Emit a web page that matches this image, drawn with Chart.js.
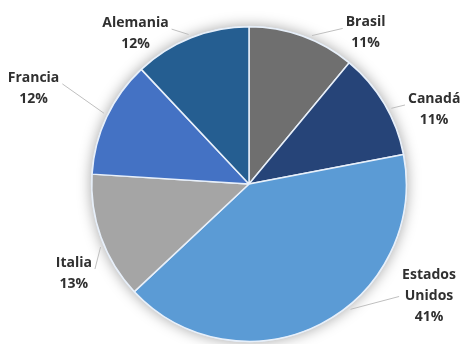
<!DOCTYPE html>
<html>
<head>
<meta charset="utf-8">
<script src="https://cdn.jsdelivr.net/npm/chart.js@4"></script>
<style>
  html, body { margin: 0; padding: 0; background: #fff; }
  #wrap { width: 460px; height: 344px; position: relative; }
</style>
</head>
<body>
<div id="wrap"><canvas id="chart" width="460" height="344"></canvas></div>
<script>
// slices, clockwise from 12 o'clock
const paises = ['Brasil', 'Canadá', 'Estados Unidos', 'Italia', 'Francia', 'Alemania'];
const porcentajes = [11, 11, 41, 13, 12, 12];
const colores = ['#6f6f6f', '#264478', '#5b9bd5', '#a5a5a5', '#4472c4', '#255e91'];

// where each data label sits: angle (deg clockwise from top), distance in radii,
// plus the angle where its leader line touches the pie
const etiquetas = [
  { ang: 37.6, dist: 1.215, lead: 23 },
  { ang: 68, dist: 1.27, lead: 62 },
  { ang: 122, dist: 1.35, lead: 141 },
  { ang: 243, dist: 1.25, lead: 247 },
  { ang: 294, dist: 1.50, lead: 296 },
  { ang: 323, dist: 1.20, lead: 338 }
];

const FONT = 'bold 14px "Open Sans", "Liberation Sans", sans-serif';

const sombra = {
  id: 'sombra',
  beforeDatasetsDraw(chart) {
    const arc = chart.getDatasetMeta(0).data[0];
    if (!arc) return;
    const ctx = chart.ctx;
    ctx.save();
    ctx.shadowColor = 'rgba(0,0,0,0.35)';
    ctx.shadowBlur = 14;
    ctx.fillStyle = '#dfe8f3';
    ctx.beginPath();
    ctx.arc(arc.x, arc.y, arc.outerRadius + 1, 0, Math.PI * 2);
    ctx.fill();
    ctx.restore();
  }
};

const rotulos = {
  id: 'rotulos',
  afterDatasetsDraw(chart) {
    const ctx = chart.ctx;
    const arcs = chart.getDatasetMeta(0).data;
    const total = porcentajes.reduce((a, b) => a + b, 0);
    ctx.save();
    ctx.font = FONT;
    ctx.textAlign = 'center';
    ctx.textBaseline = 'middle';
    arcs.forEach((arc, i) => {
      const e = etiquetas[i];
      const r = arc.outerRadius;
      const a = e.ang * Math.PI / 180;
      const cx = arc.x + Math.sin(a) * r * e.dist;
      const cy = arc.y - Math.cos(a) * r * e.dist;
      const lines = paises[i].split(' ');
      lines.push(Math.round(porcentajes[i] / total * 100) + '%');
      const lh = 21;
      const top = cy - (lines.length - 1) * lh / 2;

      // leader line
      const la = e.lead * Math.PI / 180;
      const px = arc.x + Math.sin(la) * (r + 4);
      const py = arc.y - Math.cos(la) * (r + 4);
      const w = ctx.measureText(lines[0]).width;
      const right = Math.sin(a) > 0;
      const lx = right ? cx - w / 2 - 3 : cx + w / 2 + 3;
      const ly = top + (lines.length > 2 ? lh * 1 : lh * 0.3);
      ctx.strokeStyle = '#bfbfbf';
      ctx.lineWidth = 1;
      ctx.beginPath();
      ctx.moveTo(px, py);
      ctx.lineTo(lx, ly);
      ctx.stroke();

      ctx.fillStyle = '#303030';
      lines.forEach((t, k) => ctx.fillText(t, cx, top + k * lh));
    });
    ctx.restore();
  }
};

new Chart(document.getElementById('chart').getContext('2d'), {
  type: 'pie',
  data: {
    labels: paises,
    datasets: [{
      data: porcentajes,
      backgroundColor: colores,
      borderColor: '#e8f0fa',
      borderWidth: 1.5
    }]
  },
  options: {
    responsive: false,
    animation: false,
    layout: { padding: { left: 91, right: 53, top: 26, bottom: 2 } },
    plugins: {
      legend: { display: false },
      tooltip: { enabled: false }
    }
  },
  plugins: [sombra, rotulos]
});
</script>
</body>
</html>
